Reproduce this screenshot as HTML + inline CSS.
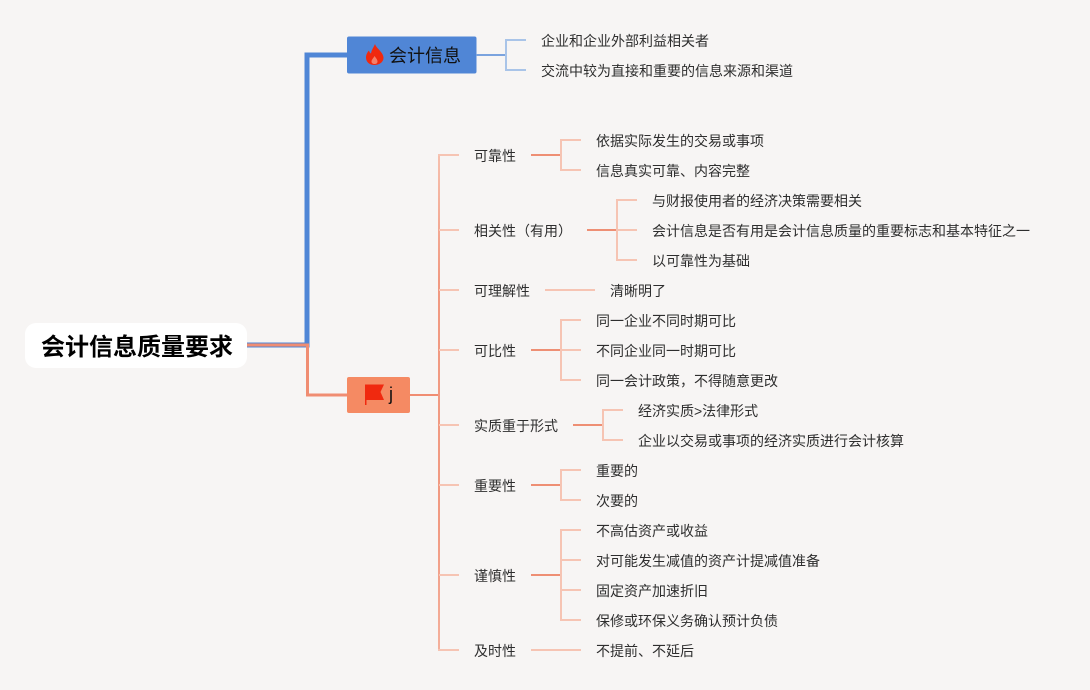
<!DOCTYPE html>
<html><head><meta charset="utf-8"><style>
html,body{margin:0;padding:0;background:#f7f5f4;width:1090px;height:690px;overflow:hidden}
svg{display:block}
text{font-family:"Liberation Sans","Noto Sans CJK SC",sans-serif;font-size:14px;fill:#2e2e2e}
.l{stroke:#f6c4b3;stroke-width:2;fill:none}
.d{stroke:#ee8f74;stroke-width:2;fill:none}
.b{stroke:#a9c4e8;stroke-width:2;fill:none}
</style></head><body>
<svg width="1090" height="690" viewBox="0 0 1090 690" xmlns="http://www.w3.org/2000/svg">
<defs>
<linearGradient id="g" gradientUnits="userSpaceOnUse" x1="0" y1="155" x2="0" y2="650">
<stop offset="0" stop-color="#f6c0ae"/><stop offset="0.25" stop-color="#f19a82"/><stop offset="0.75" stop-color="#f19a82"/><stop offset="1" stop-color="#f4b09c"/>
</linearGradient>
</defs>
<rect width="1090" height="690" fill="#f7f5f4"/>
<path d="M247 345H307V55H347" fill="none" stroke="#5086d6" stroke-width="5"/>
<path d="M247 345H307.500V395H347" fill="none" stroke="#f08d72" stroke-width="3"/>
<rect x="25" y="323" width="222" height="45" rx="11" fill="#fff"/>
<text x="41" y="355" style="font-size:24px;font-weight:bold;fill:#000">会计信息质量要求</text>
<rect x="347" y="36.500" width="129.500" height="37" rx="2" fill="#5086d6"/>
<path d="M375 44c1 4 8 8 8.500 13.500c.2 4.500-4 7.500-9 7.500s-8.500-3-8.500-7.500c0-3 1.500-5.500 3-7c.3 1.500 1 2.500 2 3c.5-3.500 2.500-6 4-9.500z" fill="#f0290f"/>
<path d="M374.500 56c1.300 2 3 3.500 3 5.500s-1.500 2.500-3 2.500s-3-.7-3-2.500s2-3.500 3-5.500z" fill="#f4806a"/>
<text x="389" y="62" style="font-size:18px;fill:#111">会计信息</text>
<path d="M476 55H506" stroke="#7ba3de" stroke-width="2" fill="none"/>
<path class="b" d="M526 40H506V70H526"/>
<text x="541" y="46">企业和企业外部利益相关者</text>
<text x="541" y="76">交流中较为直接和重要的信息来源和渠道</text>
<rect x="347" y="377" width="63" height="36" rx="2" fill="#f58a63"/>
<path d="M365 384.500H384L380.500 392L384 400H366.500V405H365z" fill="#f0290f"/>
<text x="389" y="400" style="font-size:18px;fill:#111">j</text>
<path d="M410 395H439" stroke="#f08d72" stroke-width="2"/>
<path fill="none" stroke="url(#g)" stroke-width="2" d="M439 155V650"/>
<path class="l" d="M438 155H459M439 230H459M439 290H459M439 350H459M439 425H459M439 485H459M439 575H459M438 650H459"/>
<text x="474" y="161">可靠性</text>
<path class="d" d="M531 155H561"/><path class="l" d="M581 140H561V170H581"/>
<text x="596" y="146">依据实际发生的交易或事项</text>
<text x="596" y="176">信息真实可靠、内容完整</text>
<text x="474" y="236">相关性（有用）</text>
<path class="d" d="M587 230H617"/><path class="l" d="M637 200H617V260H637M617 230H637"/>
<text x="652" y="206">与财报使用者的经济决策需要相关</text>
<text x="652" y="236">会计信息是否有用是会计信息质量的重要标志和基本特征之一</text>
<text x="652" y="266">以可靠性为基础</text>
<text x="474" y="296">可理解性</text>
<path class="l" d="M545 290H595"/>
<text x="610" y="296">清晰明了</text>
<text x="474" y="356">可比性</text>
<path class="d" d="M531 350H561"/><path class="l" d="M581 320H561V380H581M561 350H581"/>
<text x="596" y="326">同一企业不同时期可比</text>
<text x="596" y="356">不同企业同一时期可比</text>
<text x="596" y="386">同一会计政策，不得随意更改</text>
<text x="474" y="431">实质重于形式</text>
<path class="d" d="M573 425H603"/><path class="l" d="M623 410H603V440H623"/>
<text x="638" y="416">经济实质&gt;法律形式</text>
<text x="638" y="446">企业以交易或事项的经济实质进行会计核算</text>
<text x="474" y="491">重要性</text>
<path class="d" d="M531 485H561"/><path class="l" d="M581 470H561V500H581"/>
<text x="596" y="476">重要的</text>
<text x="596" y="506">次要的</text>
<text x="474" y="581">谨慎性</text>
<path class="d" d="M531 575H561"/><path class="l" d="M581 530H561V620H581M561 560H581M561 590H581"/>
<text x="596" y="536">不高估资产或收益</text>
<text x="596" y="566">对可能发生减值的资产计提减值准备</text>
<text x="596" y="596">固定资产加速折旧</text>
<text x="596" y="626">保修或环保义务确认预计负债</text>
<text x="474" y="656">及时性</text>
<path class="l" d="M531 650H581"/>
<text x="596" y="656">不提前、不延后</text>
</svg>
</body></html>
